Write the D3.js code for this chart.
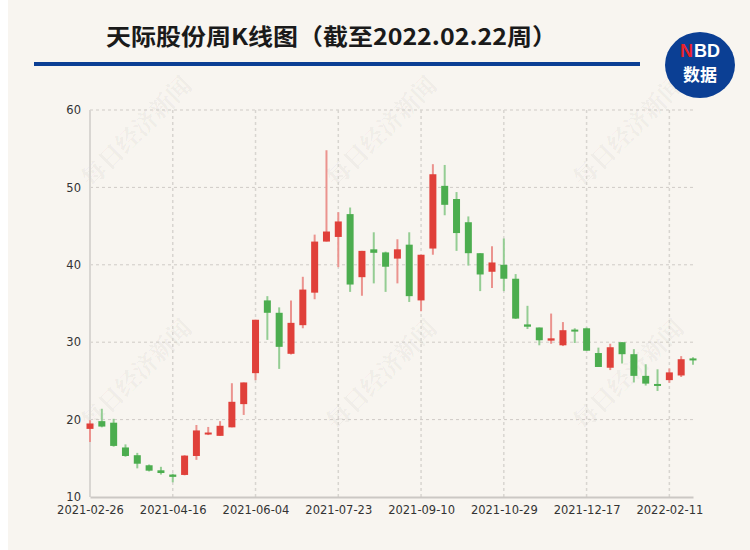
<!DOCTYPE html>
<html>
<head>
<meta charset="utf-8">
<script src="https://cdn.jsdelivr.net/npm/d3@7/dist/d3.min.js"></script>
<style>
  html, body { margin: 0; padding: 0; background: #f8f5f0; }
  svg { display: block; }
</style>
</head>
<body>
<svg id="chart" width="750" height="550"></svg>
<script>
const dates = ["2021-02-26","2021-03-05","2021-03-12","2021-03-19","2021-03-26","2021-04-02","2021-04-09",
  "2021-04-16","2021-04-23","2021-04-30","2021-05-07","2021-05-14","2021-05-21","2021-05-28",
  "2021-06-04","2021-06-11","2021-06-18","2021-06-25","2021-07-02","2021-07-09","2021-07-16",
  "2021-07-23","2021-07-30","2021-08-06","2021-08-13","2021-08-20","2021-08-27","2021-09-03",
  "2021-09-10","2021-09-17","2021-09-24","2021-09-30","2021-10-08","2021-10-15","2021-10-22",
  "2021-10-29","2021-11-05","2021-11-12","2021-11-19","2021-11-26","2021-12-03","2021-12-10",
  "2021-12-17","2021-12-24","2021-12-31","2022-01-07","2022-01-14","2022-01-21","2022-01-28",
  "2022-02-11","2022-02-18","2022-02-22"];
const openV  = [18.8,19.8,19.6,16.4,15.4,14.1,13.45,12.9,12.85,15.3,18.1,17.9,19.0,22.0,26.0,35.4,33.8,28.5,32.2,36.4,43.0,43.6,46.55,38.4,42.0,41.6,40.8,42.6,35.4,42.1,50.2,48.5,45.5,41.5,39.1,40.0,38.2,32.3,31.9,30.2,29.6,31.55,31.8,28.6,26.7,30.0,28.45,25.65,24.6,25.1,25.7,27.85];
const closeV = [19.5,19.1,16.6,15.3,14.3,13.4,13.1,12.6,15.35,18.6,18.3,19.2,22.3,24.8,32.9,33.8,29.4,32.5,36.8,43.0,44.3,45.6,37.45,41.8,41.55,39.75,42.0,35.95,41.3,51.7,47.75,44.1,41.5,38.75,40.3,38.2,33.05,32.0,30.25,30.5,31.55,31.45,28.9,26.8,29.35,28.45,25.65,24.65,24.35,26.1,27.8,27.7];
const highV  = [19.9,21.4,20.1,16.8,15.7,14.2,13.9,13.0,15.4,19.3,19.05,19.8,24.7,24.8,32.9,35.95,34.5,35.4,38.45,43.9,54.8,46.8,47.4,41.8,44.2,41.7,43.3,44.2,41.3,53.0,52.9,49.4,46.25,41.5,42.4,43.4,38.8,34.7,31.9,33.7,32.6,31.8,31.9,29.3,29.8,30.0,29.1,27.15,26.5,26.6,28.2,28.05];
const lowV   = [17.1,19.0,16.5,15.2,13.7,13.3,12.9,11.9,12.8,14.8,18.0,17.9,19.0,20.6,25.1,30.3,26.55,28.4,31.8,35.55,43.0,39.7,36.5,36.0,37.6,36.5,37.6,35.2,34.0,41.3,46.4,41.8,39.9,36.6,37.0,36.6,33.0,31.7,29.6,29.8,29.5,29.9,28.9,26.8,26.4,27.25,24.8,24.4,23.7,24.75,25.5,27.1];
const yTicks = [10,20,30,40,50,60];
const xTickLabels = ["2021-02-26","2021-04-16","2021-06-04","2021-07-23","2021-09-10","2021-10-29","2021-12-17","2022-02-11"];

const svg = d3.select("#chart");
const W = 750, H = 550;
const L = 90, R = 693, T = 110, B = 497;

svg.append("rect").attr("width", W).attr("height", H).attr("fill", "#f8f5f0");
svg.append("rect").attr("width", 8).attr("height", H).attr("fill", "#ffffff");

// watermarks
const wm = [[135,130],[380,130],[627,130],[135,373],[380,373],[627,373]];
svg.append("g").selectAll("text").data(wm).join("text")
  .attr("transform", d => `translate(${d[0]},${d[1]}) rotate(-45)`)
  .attr("text-anchor", "middle").attr("dominant-baseline", "central")
  .attr("font-family", "'Noto Serif CJK SC','Noto Sans CJK SC',serif")
  .attr("font-weight", "bold").attr("font-size", 24)
  .attr("fill", "#000").attr("fill-opacity", 0.05)
  .text("每日经济新闻");

// title
svg.append("text").attr("x", 106).attr("y", 45)
  .attr("font-family", "'Noto Sans CJK SC',sans-serif").attr("font-weight", "bold")
  .attr("font-size", 23).attr("fill", "#1a1a1a")
  .attr("textLength", 451).attr("lengthAdjust", "spacingAndGlyphs")
  .text("天际股份周K线图（截至2022.02.22周）");
svg.append("rect").attr("x", 34).attr("y", 62).attr("width", 606).attr("height", 4).attr("fill", "#0b3f94");

// logo
const logo = svg.append("g").attr("transform", "translate(700,65)");
logo.append("ellipse").attr("rx", 35).attr("ry", 33).attr("fill", "#0b3f94");
logo.append("text").attr("x", -7).attr("y", -8).attr("text-anchor", "end")
  .attr("font-family", "'Liberation Sans',Arial,sans-serif").attr("font-weight", "bold").attr("font-size", 18)
  .attr("fill", "#e8232a").text("N");
logo.append("text").attr("x", -6).attr("y", -8).attr("text-anchor", "start")
  .attr("font-family", "'Liberation Sans',Arial,sans-serif").attr("font-weight", "bold").attr("font-size", 18)
  .attr("fill", "#ffffff").text("BD");
logo.append("text").attr("y", 16).attr("text-anchor", "middle")
  .attr("font-family", "'Noto Sans CJK SC',sans-serif").attr("font-weight", "bold").attr("font-size", 17)
  .attr("fill", "#ffffff").text("数据");

// scales
const x = d3.scalePoint().domain(dates).range([L, R]);
const y = d3.scaleLinear().domain([10, 60]).range([B, T]);

// grid
const grid = svg.append("g");
grid.selectAll("line.h").data(yTicks.filter(v => v > 10)).join("line")
  .attr("x1", L).attr("x2", R).attr("y1", d => y(d)).attr("y2", d => y(d))
  .attr("stroke", "#cfcbc6").attr("stroke-width", 1).attr("stroke-dasharray", "3,3");
grid.selectAll("line.v").data(xTickLabels.slice(1)).join("line")
  .attr("x1", d => x(d)).attr("x2", d => x(d)).attr("y1", T).attr("y2", B)
  .attr("stroke", "#d8d5d0").attr("stroke-width", 1.5).attr("stroke-dasharray", "3,3");

// axes lines
svg.append("line").attr("x1", L).attr("x2", L).attr("y1", T).attr("y2", B)
  .attr("stroke", "#d9d6d2").attr("stroke-width", 2);

// y axis labels
const yAxis = svg.append("g").attr("transform", `translate(${L},0)`)
  .call(d3.axisLeft(y).tickValues(yTicks).tickSize(0).tickPadding(9));
yAxis.select(".domain").remove();
yAxis.selectAll("text").attr("font-family", "'DejaVu Sans',sans-serif").attr("font-size", 11.5).attr("fill", "#333");

// x axis
const xAxis = svg.append("g").attr("transform", `translate(0,${B})`)
  .call(d3.axisBottom(x).tickValues(xTickLabels).tickSize(0).tickPadding(9));
xAxis.select(".domain").attr("stroke", "#cbc8c4").attr("stroke-width", 2);
xAxis.selectAll("text").attr("font-family", "'DejaVu Sans',sans-serif").attr("font-size", 11.5).attr("fill", "#333");

// candles
const data = dates.map((d, i) => ({ d, o: openV[i], c: closeV[i], h: highV[i], l: lowV[i] }));
const up = "#e0403a", down = "#4cad4f";
const upW = "#eb938e", downW = "#94cd93";
const bw = 7;
const cg = svg.append("g");
cg.selectAll("line").data(data).join("line")
  .attr("x1", d => x(d.d)).attr("x2", d => x(d.d))
  .attr("y1", d => y(d.h)).attr("y2", d => y(d.l))
  .attr("stroke", d => d.c >= d.o ? upW : downW).attr("stroke-width", 2);
cg.selectAll("rect").data(data).join("rect")
  .attr("x", d => x(d.d) - bw / 2)
  .attr("width", bw)
  .attr("y", d => { const t = y(Math.max(d.o, d.c)), b = y(Math.min(d.o, d.c)); return (b - t < 2) ? (t + b) / 2 - 1 : t; })
  .attr("height", d => Math.max(2, y(Math.min(d.o, d.c)) - y(Math.max(d.o, d.c))))
  .attr("fill", d => d.c >= d.o ? up : down);
</script>
</body>
</html>
